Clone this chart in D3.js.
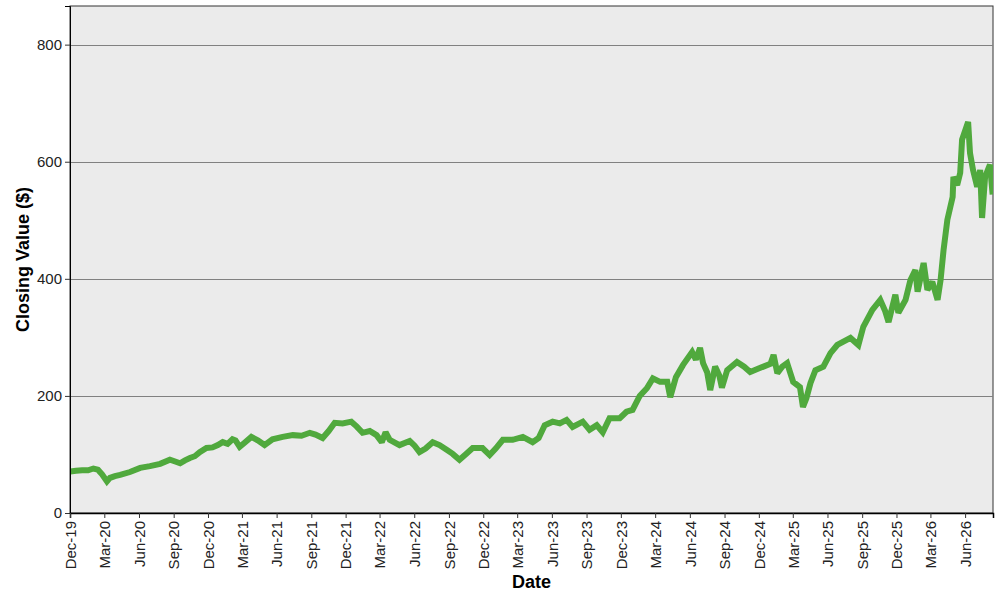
<!DOCTYPE html>
<html>
<head>
<meta charset="utf-8">
<script src="https://cdn.jsdelivr.net/npm/d3@7/dist/d3.min.js"></script>
<style>
    body { margin: 0; background: #ffffff; }
    svg { display: block; font-family: "Liberation Sans", Arial, sans-serif; }
</style>
</head>
<body>
<script>
// Dates des clôtures
const dates = [
    "2019-12-02", "2019-12-17", "2020-01-02", "2020-01-18", "2020-02-01", "2020-02-13",
    "2020-02-24", "2020-03-08", "2020-03-16", "2020-03-29", "2020-04-12", "2020-05-08",
    "2020-06-04", "2020-06-30", "2020-07-27", "2020-08-22", "2020-09-05", "2020-09-18",
    "2020-10-01", "2020-10-14", "2020-10-27", "2020-11-09", "2020-11-27", "2020-12-13",
    "2020-12-27", "2021-01-09", "2021-01-22", "2021-02-04", "2021-02-12", "2021-02-23",
    "2021-03-08", "2021-03-26", "2021-04-12", "2021-04-30", "2021-05-21", "2021-06-17",
    "2021-07-14", "2021-08-06", "2021-08-28", "2021-09-12", "2021-10-01", "2021-10-17",
    "2021-11-02", "2021-11-23", "2021-12-16", "2021-12-30", "2022-01-15", "2022-02-03",
    "2022-02-21", "2022-03-07", "2022-03-17", "2022-03-28", "2022-04-23", "2022-05-20",
    "2022-06-02", "2022-06-15", "2022-07-01", "2022-07-20", "2022-08-07", "2022-08-26",
    "2022-09-11", "2022-09-29", "2022-10-15", "2022-11-03", "2022-11-29", "2022-12-18",
    "2023-01-03", "2023-01-22", "2023-02-17", "2023-03-16", "2023-04-11", "2023-04-27",
    "2023-05-13", "2023-06-03", "2023-06-22", "2023-07-10", "2023-07-26", "2023-08-22",
    "2023-09-09", "2023-09-28", "2023-10-14", "2023-11-01", "2023-11-28", "2023-12-16",
    "2024-01-01", "2024-01-20", "2024-02-08", "2024-02-24", "2024-03-14", "2024-04-02",
    "2024-04-10", "2024-04-25", "2024-05-14", "2024-06-07", "2024-06-17", "2024-06-28",
    "2024-07-06", "2024-07-17", "2024-07-25", "2024-08-07", "2024-08-18", "2024-08-25",
    "2024-09-08", "2024-10-04", "2024-10-23", "2024-11-08", "2024-11-27", "2024-12-13",
    "2025-01-01", "2025-01-09", "2025-01-19", "2025-02-01", "2025-02-14", "2025-03-02",
    "2025-03-20", "2025-03-28", "2025-04-06", "2025-04-17", "2025-04-30", "2025-05-21",
    "2025-06-09", "2025-06-27", "2025-08-01", "2025-08-22", "2025-09-04", "2025-09-28",
    "2025-10-19", "2025-11-01", "2025-11-10", "2025-11-28", "2025-12-06", "2025-12-25",
    "2026-01-07", "2026-01-20", "2026-01-26", "2026-02-11", "2026-02-21", "2026-03-06",
    "2026-03-20", "2026-03-28", "2026-04-05", "2026-04-15", "2026-04-29", "2026-05-01",
    "2026-05-11", "2026-05-19", "2026-05-24", "2026-06-09", "2026-06-14", "2026-06-22",
    "2026-07-03", "2026-07-11", "2026-07-16", "2026-07-24", "2026-08-06", "2026-08-13"
];

// Valeurs de clôture ($)
const closes = [
    71, 72, 73, 73, 76, 74,
    66, 54, 60, 63, 65, 70,
    77, 80, 84, 91, 88, 85,
    90, 94, 97, 104, 111, 112,
    116, 121, 118, 126, 124, 113,
    120, 130, 124, 116, 126, 130,
    133, 132, 137, 134, 128, 140,
    154, 153, 156, 148, 137, 140,
    133, 121, 138, 125, 116, 123,
    115, 104, 110, 121, 116, 108,
    101, 91, 100, 111, 111, 99,
    110, 125, 125, 130, 121, 128,
    150, 156, 153, 159, 147, 156,
    142, 150, 138, 162, 162, 173,
    176, 200, 213, 230, 224, 224,
    198, 232, 253, 275, 262, 282,
    256, 240, 210, 250, 235, 214,
    244, 258, 250, 241, 246, 250,
    255, 270, 239, 250, 256, 224,
    215, 181, 196, 222, 244, 250,
    273, 287, 299, 287, 318, 347,
    364, 345, 326, 373, 342, 364,
    398, 415, 378, 427, 381, 395,
    364, 398, 450, 501, 540, 574,
    560, 581, 638, 668, 615, 586,
    557, 586, 504, 574, 595, 544
];

// Graduations
const xTickDates = [
    "2019-12-01", "2020-03-01", "2020-06-01", "2020-09-01", "2020-12-01", "2021-03-01",
    "2021-06-01", "2021-09-01", "2021-12-01", "2022-03-01", "2022-06-01", "2022-09-01",
    "2022-12-01", "2023-03-01", "2023-06-01", "2023-09-01", "2023-12-01", "2024-03-01",
    "2024-06-01", "2024-09-01", "2024-12-01", "2025-03-01", "2025-06-01", "2025-09-01",
    "2025-12-01", "2026-03-01", "2026-06-01"
];
const yTicks = [0, 200, 400, 600, 800];
const xDomain = ["2019-12-01", "2026-08-14"];
const yDomain = [0, 866];

const parseDate = d3.timeParse("%Y-%m-%d");
const formatTick = d3.timeFormat("%b-%y");

const width = 1000;
const height = 600;
const margin = { top: 6, right: 7, bottom: 87, left: 70 };
const innerW = width - margin.left - margin.right;
const innerH = height - margin.top - margin.bottom;

const data = dates.map((d, i) => ({ date: parseDate(d), close: closes[i] }));

const svg = d3.select("body").append("svg")
    .attr("width", width)
    .attr("height", height);

const g = svg.append("g").attr("transform", `translate(${margin.left},${margin.top})`);

const x = d3.scaleTime()
    .domain(xDomain.map(parseDate))
    .range([0, innerW]);

const y = d3.scaleLinear()
    .domain(yDomain)
    .range([innerH, 0]);

// Fond de la zone de tracé
g.append("rect")
    .attr("width", innerW)
    .attr("height", innerH)
    .style("fill", "#ebebeb")
    .style("stroke", "#333333")
    .style("stroke-width", 1);

// Lignes de grille horizontales
g.selectAll(".grid")
    .data(yTicks.filter((t) => t > 0))
    .enter()
    .append("line")
    .attr("class", "grid")
    .attr("x1", 0)
    .attr("x2", innerW)
    .attr("y1", (d) => Math.round(y(d)) + 0.5)
    .attr("y2", (d) => Math.round(y(d)) + 0.5)
    .style("stroke", "#808080")
    .style("stroke-width", 1);

// Courbe des clôtures (zone de tracé découpée)
g.append("clipPath")
    .attr("id", "clip")
    .append("rect")
    .attr("width", innerW)
    .attr("height", innerH);

const line = d3.line()
    .x((d) => x(d.date))
    .y((d) => y(d.close));

g.append("path")
    .datum(data)
    .attr("d", line)
    .attr("clip-path", "url(#clip)")
    .style("fill", "none")
    .style("stroke", "#50a93d")
    .style("stroke-width", 6)
    .style("stroke-linejoin", "miter")
    .style("stroke-miterlimit", 2);

// Axe Y
const yAxis = g.append("g")
    .call(d3.axisLeft(y).tickValues(yTicks).tickSize(5).tickPadding(3));
yAxis.select(".domain").style("stroke", "#000");
yAxis.selectAll(".tick line").style("stroke", "#333");
yAxis.selectAll("text")
    .style("font-size", "15px")
    .style("fill", "#222");

// Axe X
const xAxis = g.append("g")
    .attr("transform", `translate(0,${innerH})`)
    .call(d3.axisBottom(x).tickValues(xTickDates.map(parseDate)).tickFormat(formatTick).tickSize(5).tickPadding(3));
xAxis.select(".domain").style("stroke", "#000").style("stroke-width", 1.5);
xAxis.selectAll(".tick line").style("stroke", "#333");
xAxis.selectAll("text")
    .style("font-size", "15px")
    .style("fill", "#222")
    .attr("transform", "rotate(-90)")
    .attr("text-anchor", "end")
    .attr("x", -8)
    .attr("y", 0)
    .attr("dy", "0.35em");

// Titres des axes
svg.append("text")
    .attr("x", margin.left + innerW / 2)
    .attr("y", 588)
    .attr("text-anchor", "middle")
    .style("font-size", "18px")
    .style("font-weight", "bold")
    .text("Date");

svg.append("text")
    .attr("transform", `translate(29,${margin.top + innerH / 2}) rotate(-90)`)
    .attr("text-anchor", "middle")
    .style("font-size", "18px")
    .style("font-weight", "bold")
    .text("Closing Value ($)");
</script>
</body>
</html>
